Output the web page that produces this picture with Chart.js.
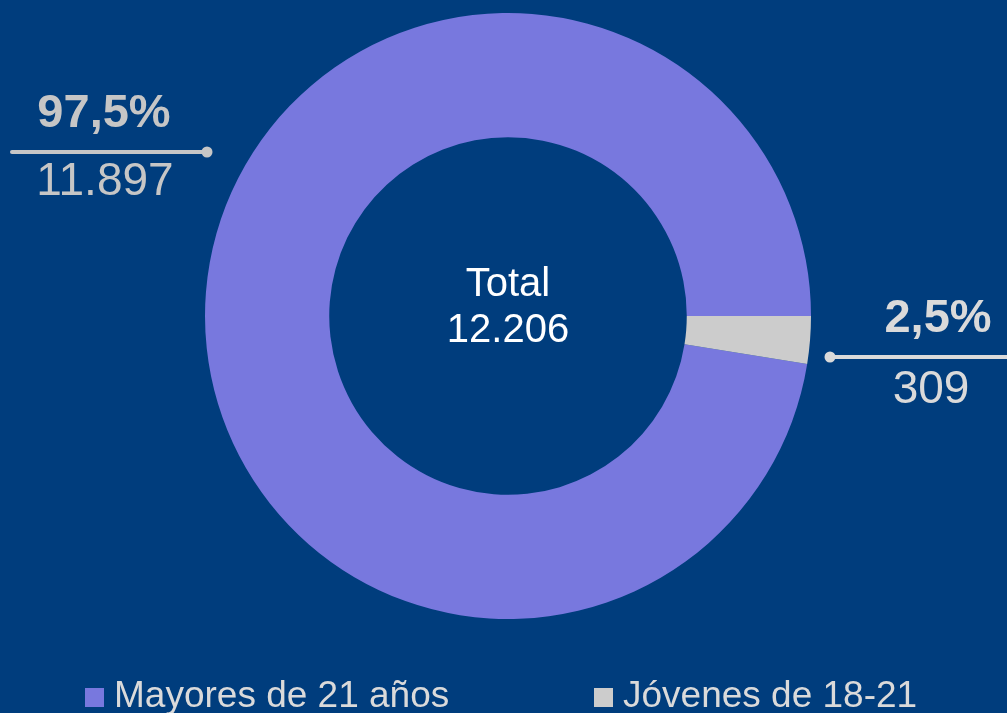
<!DOCTYPE html>
<html>
<head>
<meta charset="utf-8">
<script src="https://cdn.jsdelivr.net/npm/chart.js@4.4.0/dist/chart.umd.min.js"></script>
<style>
  html, body { margin: 0; padding: 0; background: #003d7d; overflow: hidden; }
  #wrap { position: relative; width: 1007px; height: 713px; }
</style>
</head>
<body>
<div id="wrap"><canvas id="myChart"></canvas></div>
<script>
const categories = ["Mayores de 21 años", "Jóvenes de 18-21"];
const values = [11897, 309];
const percentLabels = ["97,5%", "2,5%"];
const valueLabels = ["11.897", "309"];
const centerLabels = ["Total", "12.206"];
const sliceColors = ["#7878de", "#cccccc"];

const FONT = '"Liberation Sans", Arial, sans-serif';
const total = values.reduce((a, b) => a + b, 0);

function drawText(ctx, s, x, y, size, bold, color, align) {
  ctx.save();
  ctx.font = (bold ? "bold " : "") + size + "px " + FONT;
  ctx.fillStyle = color;
  ctx.textAlign = align;
  ctx.textBaseline = "alphabetic";
  ctx.fillText(s, x, y);
  ctx.restore();
}

function leader(ctx, x1, x2, y, dotX, color) {
  ctx.save();
  ctx.strokeStyle = color;
  ctx.lineWidth = 4;
  ctx.lineCap = "round";
  ctx.beginPath();
  ctx.moveTo(x1, y);
  ctx.lineTo(x2, y);
  ctx.stroke();
  ctx.fillStyle = color;
  ctx.beginPath();
  ctx.arc(dotX, y, 5.5, 0, Math.PI * 2);
  ctx.fill();
  ctx.restore();
}

const extras = {
  id: "extras",
  afterDraw(chart) {
    const ctx = chart.ctx;
    const a = chart.chartArea;
    const cx = (a.left + a.right) / 2;

    // center text
    drawText(ctx, centerLabels[0], cx, 296, 40, false, "#ffffff", "center");
    drawText(ctx, centerLabels[1], cx, 342, 40, false, "#ffffff", "center");

    // left callout
    drawText(ctx, percentLabels[0], 104, 127, 47, true, "#c6c6c6", "center");
    leader(ctx, 12, 207, 152, 207, "#c6c6c6");
    drawText(ctx, valueLabels[0], 105, 195, 46, false, "#c6c6c6", "center");

    // right callout
    drawText(ctx, percentLabels[1], 938, 332, 47, true, "#dadada", "center");
    leader(ctx, 830, 1010, 357, 830, "#dadada");
    drawText(ctx, valueLabels[1], 931, 403, 46, false, "#dadada", "center");

    // legend
    const legendX = [85, 594];
    categories.forEach((c, i) => {
      ctx.fillStyle = sliceColors[i];
      ctx.fillRect(legendX[i], 688, 19, 19);
      drawText(ctx, c, legendX[i] + 29, 707, 37, false, "#dadada", "left");
    });
  }
};

new Chart(document.getElementById("myChart"), {
  type: "doughnut",
  data: {
    labels: categories,
    datasets: [{
      data: values,
      backgroundColor: sliceColors,
      borderWidth: 0
    }]
  },
  options: {
    responsive: true,
    maintainAspectRatio: false,
    animation: false,
    cutout: "59%",
    rotation: 90 + values[1] / total * 360,
    layout: { padding: { top: 13, bottom: 94, left: 9, right: 0 } },
    plugins: {
      legend: { display: false },
      tooltip: { enabled: false }
    }
  },
  plugins: [extras]
});
</script>
</body>
</html>
